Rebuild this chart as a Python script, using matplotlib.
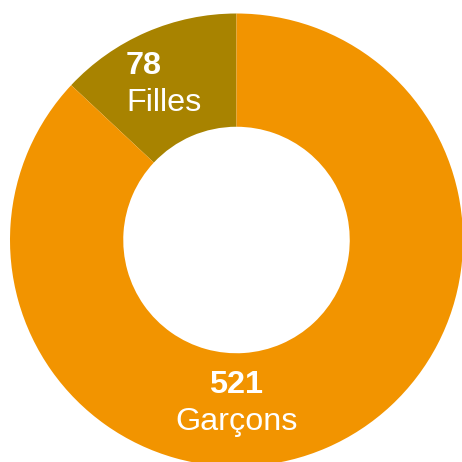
import matplotlib
matplotlib.use("Agg")
import matplotlib.pyplot as plt

labels = ["Filles", "Garçons"]
values = [78, 521]
colors = ["#A88300", "#F29400"]

plt.rcParams['font.family'] = ['Liberation Sans', 'DejaVu Sans']

fig = plt.figure(figsize=(4.62, 4.62), dpi=100)
ax = fig.add_axes([0, 0, 1, 1])

cx, cy, r = 236.5, 222, 226.5
ax.pie(values, colors=colors, startangle=90, counterclock=True,
       center=(cx, cy), radius=r, frame=True,
       wedgeprops=dict(width=r * 0.5, linewidth=0))
ax.set_xlim(0, 462)
ax.set_ylim(0, 462)
ax.set_aspect('equal')
ax.axis('off')

# Filles label (left aligned)
ax.text(126, 388, str(values[0]), color='white', fontsize=23.3, fontweight='bold',
        ha='left', va='baseline')
ax.text(126, 351, labels[0], color='white', fontsize=23.3, ha='left', va='baseline')

# Garçons label (centered)
ax.text(236.5, 69, str(values[1]), color='white', fontsize=23.3, fontweight='bold',
        ha='center', va='baseline')
ax.text(236.5, 32, labels[1], color='white', fontsize=23.3, ha='center', va='baseline')

fig.savefig("out.png", dpi=100)
